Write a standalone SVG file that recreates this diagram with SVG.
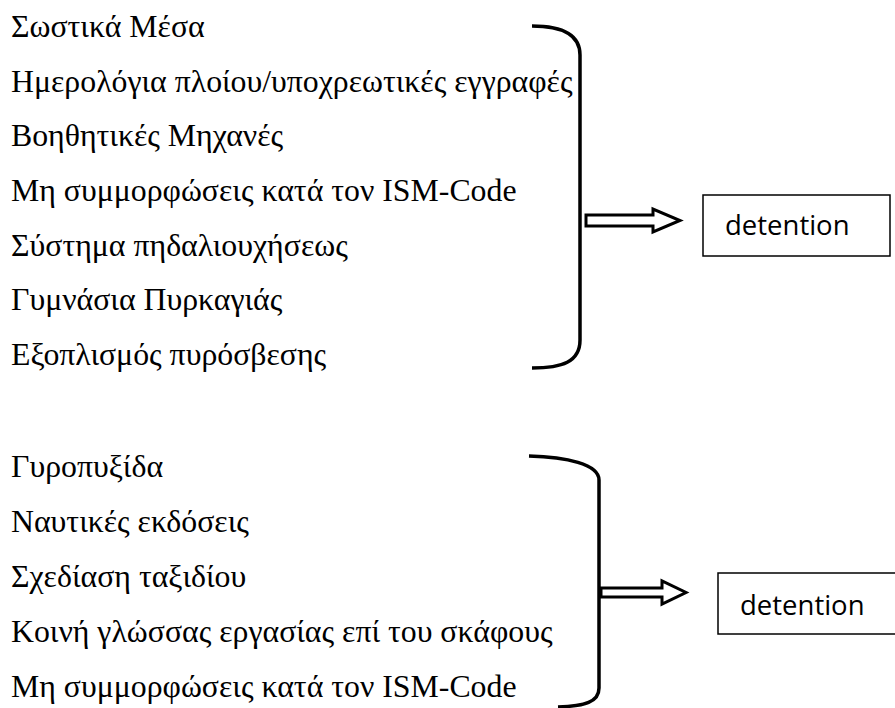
<svg xmlns="http://www.w3.org/2000/svg" width="895" height="708" viewBox="0 0 895 708">
<style>
.t{font-family:"Liberation Serif","Times New Roman",serif;font-size:31.8px;fill:#000}
.d{font-family:"Open Sans","Liberation Sans",sans-serif;font-size:27.5px;fill:#000}
.brace{fill:none;stroke:#000;stroke-width:3.5}
.arrow{fill:#fff;stroke:#000;stroke-width:3;stroke-linejoin:miter}
.box{fill:#fff;stroke:#000;stroke-width:1.5}
</style>
<rect width="895" height="708" fill="#fff"/>
<g id="list1">
<text class="t" x="11" y="37">Σωστικά Μέσα</text>
<text class="t" x="11" y="92">Ημερολόγια πλοίου/υποχρεωτικές εγγραφές</text>
<text class="t" x="11" y="146">Βοηθητικές Μηχανές</text>
<text class="t" x="11" y="201">Μη συμμορφώσεις κατά τον ISM-Code</text>
<text class="t" x="11" y="256">Σύστημα πηδαλιουχήσεως</text>
<text class="t" x="11" y="310">Γυμνάσια Πυρκαγιάς</text>
<text class="t" x="11" y="365">Εξοπλισμός πυρόσβεσης</text>
</g>
<g id="list2">
<text class="t" x="11" y="477">Γυροπυξίδα</text>
<text class="t" x="11" y="532">Ναυτικές εκδόσεις</text>
<text class="t" x="11" y="587">Σχεδίαση ταξιδίου</text>
<text class="t" x="11" y="642">Κοινή γλώσσας εργασίας επί του σκάφους</text>
<text class="t" x="11" y="697">Μη συμμορφώσεις κατά τον ISM-Code</text>
</g>
<g id="connectors">
<path class="brace" d="M532,26 C562,26 580,34 580,55 L580,340 C580,362 562,368 532,368"/>
<path class="brace" d="M529,456 C566,457 599,464 599,480 L599,688 C599,702 585,706 558,707"/>
<path class="arrow" d="M586,215 L653,215 L653,209 L680,220.5 L653,232 L653,226 L586,226 Z"/>
<path class="arrow" d="M601,588 L662,588 L662,581 L686,592.5 L662,604 L662,597 L601,597 Z"/>
</g>
<g id="detention1">
<rect class="box" x="703" y="195" width="187" height="61"/>
<text class="d" x="725" y="235">detention</text>
</g>
<g id="detention2">
<rect class="box" x="718" y="573" width="190" height="61"/>
<text class="d" x="740" y="615">detention</text>
</g>
</svg>
